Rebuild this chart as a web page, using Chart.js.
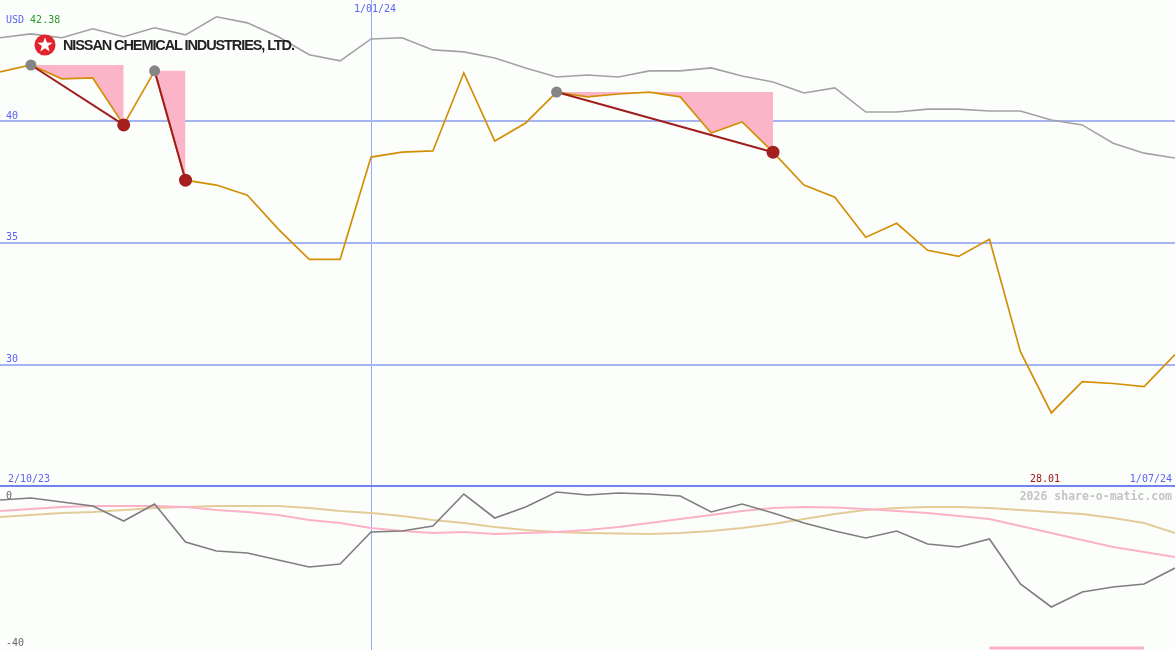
<!DOCTYPE html>
<html>
<head>
<meta charset="utf-8">
<script src="https://cdn.jsdelivr.net/npm/chart.js@4.4.0/dist/chart.umd.min.js"></script>
<style>
  body { margin: 0; background: #fcfefc; }
  #wrap { position: relative; width: 1175px; height: 650px; overflow: hidden; background: #fcfefc; }
  #chart { position: absolute; left: 0; top: 0; }
  .lbl { position: absolute; font-family: "DejaVu Sans Mono", monospace; font-size: 10px; line-height: 12px; white-space: nowrap; }
  .blue { color: #5a64f0; }
  #brand { position: absolute; left: 34px; top: 34px; display: flex; align-items: center; }
  #brand span { font-family: "Liberation Sans", Arial, sans-serif; font-weight: bold; font-size: 14.5px; color: #222; letter-spacing: -1.1px; margin-left: 7px; }
  #credit { position: absolute; right: 3px; top: 489px; font-family: "DejaVu Sans Mono", monospace; font-weight: bold; font-size: 11.5px; color: #c4c4c4; }
</style>
</head>
<body>
<div id="wrap">
  <canvas id="chart" width="1175" height="650"></canvas>
  <div class="lbl" style="left:6px;top:14px;"><span class="blue">USD</span> <span style="color:#2a9a2a">42.38</span></div>
  <div class="lbl blue" style="left:354px;top:3px;">1/01/24</div>
  <div class="lbl blue" style="left:8px;top:473px;">2/10/23</div>
  <div class="lbl blue" style="right:3px;top:473px;">1/07/24</div>
  <div class="lbl" style="left:1030px;top:473px;color:#a01818;">28.01</div>
  <div id="credit">2026 share-o-matic.com</div>
  <div id="brand">
    <svg width="22" height="22" viewBox="0 0 22 22">
      <circle cx="11" cy="11" r="10.5" fill="#e3222e"/>
      <polygon fill="#fff" points="11,3.2 12.9,8.6 18.6,8.7 14.1,12.1 15.7,17.6 11,14.3 6.3,17.6 7.9,12.1 3.4,8.7 9.1,8.6"/>
    </svg>
    <span>NISSAN CHEMICAL INDUSTRIES, LTD.</span>
  </div>
</div>
<script>
// weekly closes, d/mm/yy
const dates = [
    '9/10/23', '16/10/23', '23/10/23', '30/10/23', '6/11/23', '13/11/23', '20/11/23', '27/11/23',
    '4/12/23', '11/12/23', '18/12/23', '25/12/23', '1/01/24', '8/01/24', '15/01/24', '22/01/24',
    '29/01/24', '5/02/24', '12/02/24', '19/02/24', '26/02/24', '4/03/24', '11/03/24', '18/03/24',
    '25/03/24', '1/04/24', '8/04/24', '15/04/24', '22/04/24', '29/04/24', '6/05/24', '13/05/24',
    '20/05/24', '27/05/24', '3/06/24', '10/06/24', '17/06/24', '24/06/24', '1/07/24'
];

// share price (USD)
const closePrice = [
    42.02, 42.30, 41.73, 41.77, 39.84, 42.06, 37.57, 37.37, 36.95, 35.56,
    34.32, 34.32, 38.52, 38.72, 38.77, 41.98, 39.18, 39.92, 41.19, 40.99,
    41.11, 41.19, 40.99, 39.51, 39.96, 38.72, 37.37, 36.87, 35.23, 35.80,
    34.69, 34.44, 35.14, 30.53, 28.01, 29.30, 29.22, 29.09, 30.41
];

// grey comparison line in the price panel
const compareLine = [
    43.42, 43.58, 43.42, 43.79, 43.46, 43.83, 43.54, 44.28, 44.03, 43.46,
    42.72, 42.47, 43.37, 43.42, 42.92, 42.84, 42.59, 42.18, 41.81, 41.89,
    41.81, 42.06, 42.06, 42.18, 41.85, 41.60, 41.15, 41.36, 40.37, 40.37,
    40.49, 40.49, 40.41, 40.41, 40.04, 39.84, 39.09, 38.68, 38.48
];

// lower panel
const relPerf = [
    0.54, 1.09, 0.00, -1.09, -5.17, -0.54, -10.88, -13.33, -13.88, -15.78,
    -17.69, -16.87, -8.16, -7.89, -6.53, 2.18, -4.35, -1.36, 2.72, 1.90,
    2.45, 2.18, 1.63, -2.72, -0.54, -2.99, -5.71, -7.89, -9.80, -7.89,
    -11.43, -12.24, -10.07, -22.31, -28.57, -24.49, -23.13, -22.31, -17.96
];
const avgPink = [
    -2.45, -1.90, -1.36, -1.09, -1.09, -1.09, -1.36, -2.18, -2.72, -3.54,
    -4.90, -5.71, -7.07, -7.89, -8.44, -8.16, -8.71, -8.44, -8.16, -7.62,
    -6.80, -5.71, -4.63, -3.54, -2.45, -1.63, -1.36, -1.50, -1.90, -2.45,
    -2.99, -3.81, -4.63, -6.53, -8.44, -10.34, -12.24, -13.61, -14.97
];
const avgTan = [
    -4.08, -3.54, -2.99, -2.72, -2.18, -1.63, -1.36, -1.09, -1.09, -1.09,
    -1.63, -2.45, -2.99, -3.81, -4.90, -5.71, -6.80, -7.62, -8.16, -8.44,
    -8.57, -8.71, -8.44, -7.89, -7.07, -5.99, -4.63, -3.27, -2.18, -1.63,
    -1.36, -1.36, -1.63, -2.18, -2.72, -3.27, -4.35, -5.71, -8.44
];

// drawdowns: [peak index, trough index]
const drawdowns = [[1, 4], [5, 6], [18, 25]];
// pink marker along the bottom edge: [from index, to index, level]
const lowBand = [32, 37, -39.7];

const priceTicks = [25, 30, 35, 40];
const lowerTicks = [0, -40];
const dividerTick = 25;

function only(indices, values) {
    return dates.map((d, i) => indices.includes(i) ? values[i] : null);
}

// hidden axes take no room at all
function noRoom(s) {
    if (s.isHorizontal()) s.height = 0; else s.width = 0;
    s.paddingTop = 0; s.paddingBottom = 0; s.paddingLeft = 0; s.paddingRight = 0;
}

const datasets = [];

datasets.push({
    data: closePrice,
    yAxisID: 'y',
    borderColor: '#d48f08',
    borderWidth: 1.7,
    pointRadius: 0,
    order: 2
});

datasets.push({
    data: compareLine,
    yAxisID: 'y',
    borderColor: '#a2a2a2',
    borderWidth: 1.6,
    pointRadius: 0,
    order: 6
});

// shaded drawdown areas, filled down to the price line
drawdowns.forEach(([a, b]) => {
    const top = dates.map((d, i) => (i >= a && i <= b) ? closePrice[a] : null);
    datasets.push({
        data: top,
        yAxisID: 'y',
        borderWidth: 0,
        borderColor: 'rgba(0,0,0,0)',
        backgroundColor: '#fcb4c8',
        pointRadius: 0,
        fill: 0,
        order: 5
    });
});

// peak to trough lines
drawdowns.forEach(([a, b]) => {
    datasets.push({
        data: only([a, b], closePrice),
        yAxisID: 'y',
        borderColor: '#a11d1d',
        borderWidth: 2,
        pointRadius: 0,
        spanGaps: true,
        order: 1
    });
});

datasets.push({
    data: only(drawdowns.map(d => d[0]), closePrice),
    yAxisID: 'y',
    showLine: false,
    pointRadius: 5.5,
    pointBackgroundColor: '#858585',
    pointBorderWidth: 0,
    order: 0
});
datasets.push({
    data: only(drawdowns.map(d => d[1]), closePrice),
    yAxisID: 'y',
    showLine: false,
    pointRadius: 6.5,
    pointBackgroundColor: '#a3201f',
    pointBorderWidth: 0,
    order: 0
});

// lower panel
datasets.push({
    data: avgTan,
    yAxisID: 'y2',
    borderColor: '#e4cc9a',
    borderWidth: 2,
    pointRadius: 0,
    order: 9
});
datasets.push({
    data: avgPink,
    yAxisID: 'y2',
    borderColor: '#fbb2c6',
    borderWidth: 2,
    pointRadius: 0,
    order: 8
});
datasets.push({
    data: relPerf,
    yAxisID: 'y2',
    borderColor: '#7e7e7e',
    borderWidth: 1.6,
    pointRadius: 0,
    order: 7
});
datasets.push({
    data: dates.map((d, i) => (i >= lowBand[0] && i <= lowBand[1]) ? lowBand[2] : null),
    yAxisID: 'y2',
    borderColor: '#fbb2c6',
    borderWidth: 3,
    pointRadius: 0,
    order: 7
});

const monoFont = { family: 'DejaVu Sans Mono', size: 10 };

new Chart(document.getElementById('chart'), {
    type: 'line',
    data: { labels: dates, datasets: datasets },
    options: {
        responsive: false,
        animation: false,
        layout: { padding: 0, autoPadding: false },
        plugins: { legend: { display: false }, tooltip: { enabled: false } },
        elements: { line: { tension: 0 } },
        scales: {
            x: {
                type: 'category',
                offset: false,
                afterBuildTicks: s => { s.ticks = s.ticks.filter(t => dates[t.value] === '1/01/24'); },
                afterFit: noRoom,
                ticks: { display: false },
                border: { display: false },
                grid: { color: '#98a8ff', lineWidth: 1, drawTicks: false }
            },
            y: {
                position: 'left',
                min: 18.275,
                max: 44.97,
                afterBuildTicks: s => { s.ticks = priceTicks.map(v => ({ value: v })); },
                afterFit: noRoom,
                border: { display: false },
                grid: {
                    drawTicks: false,
                    lineWidth: 2,
                    color: c => c.tick && c.tick.value === dividerTick ? '#7282f0' : '#a6b4f2'
                },
                ticks: {
                    mirror: true,
                    padding: 6,
                    labelOffset: -5,
                    color: '#5a64f0',
                    font: monoFont,
                    callback: v => v === dividerTick ? '' : v
                }
            },
            y2: {
                position: 'left',
                min: -40.27,
                max: 136.6,
                afterBuildTicks: s => { s.ticks = lowerTicks.map(v => ({ value: v })); },
                afterFit: noRoom,
                border: { display: false },
                grid: { display: false },
                ticks: {
                    mirror: true,
                    padding: 6,
                    labelOffset: -6,
                    color: '#666',
                    font: monoFont
                }
            }
        }
    }
});
</script>
</body>
</html>
